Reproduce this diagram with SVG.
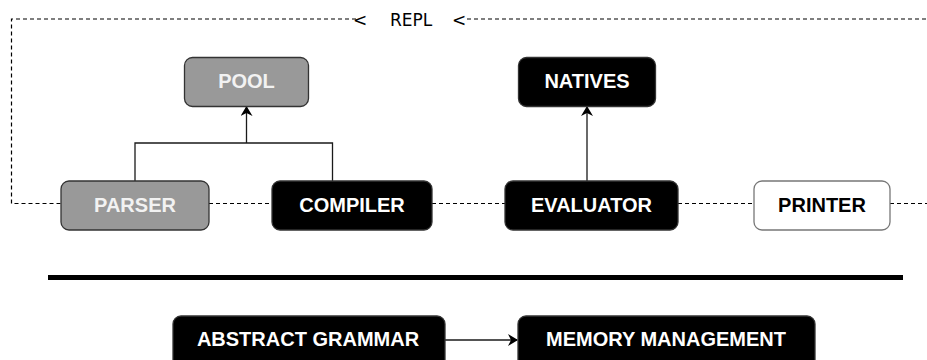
<svg xmlns="http://www.w3.org/2000/svg" width="927" height="360" viewBox="0 0 927 360">
  <style>
    .box { stroke: #333333; stroke-width: 1.3; }
    .gray { fill: #999999; }
    .dark { fill: #000000; }
    .light { fill: #ffffff; stroke: #777777; }
    .label { font-family: "Liberation Sans", Arial, sans-serif; font-weight: bold; font-size: 20px; text-anchor: middle; }
    .on-dark { fill: #ffffff; }
    .on-gray { fill: #f2f2f2; }
    .on-light { fill: #000000; }
    .dash { fill: none; stroke: #000000; stroke-width: 1.2; stroke-dasharray: 4 3; }
    .link { fill: none; stroke: #1a1a1a; stroke-width: 1.3; }
    .loop { font-family: "DejaVu Sans", Verdana, sans-serif; font-size: 17px; fill: #000000; }
  </style>
  <defs>
    <marker id="arrow" viewBox="0 0 10 12" refX="9" refY="6" markerWidth="10" markerHeight="12" markerUnits="userSpaceOnUse" orient="auto">
      <path d="M0,0 L10,6 L0,12 L3,6 Z" fill="#000000"/>
    </marker>
  </defs>

  <rect width="927" height="360" fill="#ffffff"/>

  <!-- connectors -->
  <g id="connectors">
    <!-- REPL loop -->
    <path class="dash" d="M356,19 H11.5 V203.5 H61"/>
    <path class="dash" d="M467,19 H927"/>
    <path class="dash" d="M209,203.5 H272"/>
    <path class="dash" d="M432,203.5 H505"/>
    <path class="dash" d="M678,203.5 H754"/>
    <path class="dash" d="M890,203.5 H927"/>
    <text class="loop" x="353" y="26">&lt;</text>
    <text class="loop" x="390" y="26">REPL</text>
    <text class="loop" x="452" y="26">&lt;</text>
    <!-- parser / compiler to pool -->
    <path class="link" d="M135,181 V143 H332.5 V181"/>
    <path class="link" d="M246.5,143 V107" marker-end="url(#arrow)"/>
    <!-- evaluator to natives -->
    <path class="link" d="M587,181 V107" marker-end="url(#arrow)"/>
    <!-- grammar to memory -->
    <path class="link" d="M445,340 H517" marker-end="url(#arrow)"/>
  </g>

  <!-- divider -->
  <rect id="divider" x="48" y="275" width="855" height="5" fill="#000000"/>

  <g id="pool">
    <rect class="box gray" x="184.5" y="57.5" width="124" height="49" rx="8"/>
    <text class="label on-gray" x="246.5" y="88">POOL</text>
  </g>
  <g id="natives">
    <rect class="box dark" x="518.5" y="57.5" width="137" height="49" rx="8"/>
    <text class="label on-dark" x="587" y="88">NATIVES</text>
  </g>
  <g id="parser">
    <rect class="box gray" x="61" y="181" width="148" height="49" rx="8"/>
    <text class="label on-gray" x="135" y="212">PARSER</text>
  </g>
  <g id="compiler">
    <rect class="box dark" x="272" y="181" width="160" height="49" rx="8"/>
    <text class="label on-dark" x="352" y="212">COMPILER</text>
  </g>
  <g id="evaluator">
    <rect class="box dark" x="505" y="181" width="173" height="49" rx="8"/>
    <text class="label on-dark" x="591.5" y="212">EVALUATOR</text>
  </g>
  <g id="printer">
    <rect class="box light" x="754" y="181" width="136" height="49" rx="8"/>
    <text class="label on-light" x="822" y="212">PRINTER</text>
  </g>
  <g id="abstract-grammar">
    <rect class="box dark" x="173" y="316" width="272" height="56" rx="8"/>
    <text class="label on-dark" x="308" y="346">ABSTRACT GRAMMAR</text>
  </g>
  <g id="memory-management">
    <rect class="box dark" x="518" y="316" width="297" height="56" rx="8"/>
    <text class="label on-dark" x="666" y="346">MEMORY MANAGEMENT</text>
  </g>
</svg>
